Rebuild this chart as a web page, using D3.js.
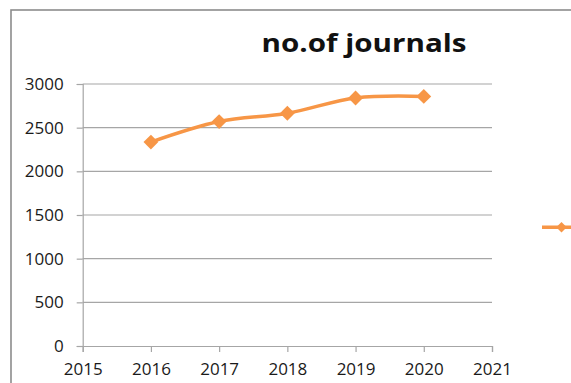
<!DOCTYPE html>
<html>
<head>
<meta charset="utf-8">
<script src="https://cdn.jsdelivr.net/npm/d3@7"></script>
<style>
  html, body { margin: 0; padding: 0; background: #fff; }
  svg { display: block; }
</style>
</head>
<body>
<svg id="chart" width="571" height="383"></svg>
<script>
const years = [2016, 2017, 2018, 2019, 2020];
const journals = [2335, 2570, 2665, 2840, 2858];
const xTicks = [2015, 2016, 2017, 2018, 2019, 2020, 2021];
const yTicks = [0, 500, 1000, 1500, 2000, 2500, 3000];
const title = "no.of journals";
const seriesColor = "#F79646";

const svg = d3.select("#chart");
const font = "'Open Sans', 'Liberation Sans', sans-serif";

// outer chart border
svg.append("rect")
  .attr("x", 11).attr("y", 10)
  .attr("width", 600).attr("height", 420)
  .attr("fill", "none").attr("stroke", "#8c8c8c").attr("stroke-width", 1.6);

const x = d3.scaleLinear().domain([2015, 2021]).range([82.7, 492]);
const y = d3.scaleLinear().domain([0, 3000]).range([346, 84]);

// gridlines
svg.append("g").selectAll("line").data(yTicks.filter(d => d > 0)).join("line")
  .attr("x1", x(2015)).attr("x2", x(2021))
  .attr("y1", d => y(d)).attr("y2", d => y(d))
  .attr("stroke", "#a6a6a6").attr("stroke-width", 1.2);

// y axis
const yAxis = svg.append("g").attr("transform", `translate(${x(2015)},0)`)
  .call(d3.axisLeft(y).tickValues(yTicks).tickSize(6).tickPadding(13).tickFormat(d3.format("d")));
yAxis.select(".domain").attr("stroke", "#a6a6a6").attr("stroke-width", 1.2);
yAxis.selectAll(".tick line").attr("stroke", "#a6a6a6").attr("stroke-width", 1.2);
yAxis.selectAll(".tick text").attr("font-family", font).attr("font-size", 17).attr("fill", "#1a1a1a");

// x axis
const xAxis = svg.append("g").attr("transform", `translate(0,${y(0)})`)
  .call(d3.axisBottom(x).tickValues(xTicks).tickSize(6).tickPadding(11).tickFormat(d3.format("d")));
xAxis.select(".domain").attr("stroke", "#a6a6a6").attr("stroke-width", 1.2);
xAxis.selectAll(".tick line").attr("stroke", "#a6a6a6").attr("stroke-width", 1.2);
xAxis.selectAll(".tick text").attr("font-family", font).attr("font-size", 17).attr("fill", "#1a1a1a");

// title
svg.append("text")
  .attr("x", 364).attr("y", 52)
  .attr("text-anchor", "middle")
  .attr("font-family", font).attr("font-weight", "bold").attr("font-size", 25)
  .attr("fill", "#111")
  .attr("textLength", 205).attr("lengthAdjust", "spacingAndGlyphs")
  .text(title);

// line
const data = years.map((yr, i) => ({ yr, v: journals[i] }));
const line = d3.line().x(d => x(d.yr)).y(d => y(d.v)).curve(d3.curveCatmullRom.alpha(0.5));
svg.append("path").datum(data)
  .attr("d", line)
  .attr("fill", "none").attr("stroke", seriesColor).attr("stroke-width", 3.5)
  .attr("stroke-linejoin", "round");

// markers
const diamond = d3.symbol().type(d3.symbolDiamond2).size(140);
svg.append("g").selectAll("path").data(data).join("path")
  .attr("transform", d => `translate(${x(d.yr)},${y(d.v)})`)
  .attr("d", diamond)
  .attr("fill", seriesColor);

// legend (clipped at right edge)
const lg = svg.append("g").attr("transform", "translate(542,227.3)");
lg.append("line").attr("x1", 0).attr("x2", 38).attr("y1", 0).attr("y2", 0)
  .attr("stroke", seriesColor).attr("stroke-width", 3.5);
lg.append("path").attr("transform", "translate(19.5,0)")
  .attr("d", d3.symbol().type(d3.symbolDiamond2).size(70))
  .attr("fill", seriesColor);
</script>
</body>
</html>
